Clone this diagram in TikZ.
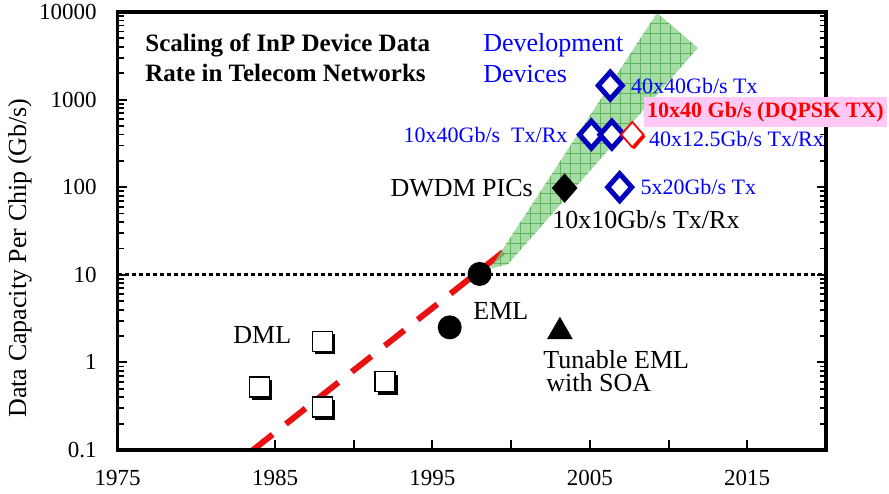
\documentclass[tikz,border=0pt]{standalone}
\usepackage{fontspec}
\setmainfont{Liberation Serif}
\usetikzlibrary{positioning,shapes.geometric,shadows,patterns.meta}

\definecolor{devblue}{RGB}{0,0,255}
\definecolor{markblue}{RGB}{0,0,190}
\definecolor{trendred}{RGB}{232,18,18}
\definecolor{bandgreen}{RGB}{130,205,130}
\definecolor{gridgreen}{RGB}{95,180,95}
\definecolor{tagpink}{RGB}{255,200,245}

\begin{document}
\begin{tikzpicture}[x=0.5pt,y=-0.5pt,
  lbl/.style={inner sep=0pt,font=\fontsize{13}{15.5}\selectfont},
  devlbl/.style={inner sep=0pt,text=devblue,font=\fontsize{11}{13}\selectfont},
  ticklbl/.style={inner sep=0pt,font=\fontsize{11.5}{13}\selectfont},
  dmlbox/.style={draw,fill=white,line width=0.7pt,minimum size=10pt,inner sep=0pt,
    drop shadow={shadow xshift=1.5pt,shadow yshift=-1.5pt,opacity=1,fill=black}},
  emldot/.style={circle,fill=black,minimum size=12pt,inner sep=0pt},
  tunmark/.style={regular polygon,regular polygon sides=3,fill=black,minimum size=15pt,inner sep=0pt},
  picmark/.style={diamond,fill=black,minimum width=13pt,minimum height=15pt,inner sep=0pt},
  devmark/.style={diamond,draw=markblue,fill=white,line width=2.5pt,minimum width=13pt,minimum height=14.5pt,inner sep=0pt},
  dqmark/.style={diamond,draw=red,fill=white,line width=0.9pt,minimum width=11.5pt,minimum height=13pt,inner sep=0pt,
    drop shadow={shadow xshift=1pt,shadow yshift=-1pt,opacity=1,fill=red}},
  dqtag/.style={fill=tagpink,text=red,inner xsep=1.5pt,inner ysep=2.5pt,font=\bfseries\fontsize{11}{12}\selectfont}]
  \useasboundingbox (0,0) rectangle (889,493);
  \node[lbl,rotate=90] (ylab) at (20,258) {Data Capacity Per Chip (Gb/s)};

  % data frame: x = years after 1975, y = log10(Gb/s)+1
  \begin{scope}[shift={(117.6,450)},x=7.87pt,y=43.8pt]
    \draw[line width=1.5pt,dash pattern=on 2pt off 1.5pt] (0,2) -- (45,2);
    \draw[trendred,line width=3pt,dash pattern=on 12.5pt off 8.5pt] (8.6,0) -- (25.06,2.34);
    \fill[bandgreen,fill opacity=0.7] (23.66,2.07) -- (24.80,2.12) -- (36.87,4.59) -- (34.27,4.99) -- cycle;
    \fill[pattern={Hatch[angle=0,distance=5pt,line width=0.4pt]},pattern color=gridgreen]
      (23.66,2.07) -- (24.80,2.12) -- (36.87,4.59) -- (34.27,4.99) -- cycle;

    % axes and ticks
    \draw[line width=1.75pt] (0,0) rectangle (45,5);
    \foreach \d in {0,...,4} {
      \foreach \k in {2,...,9} {
        \draw[line width=0.9pt] (0,{\d+log10(\k)}) -- ++(3pt,0);
        \draw[line width=0.9pt] (45,{\d+log10(\k)}) -- ++(-3pt,0);
      }
    }
    \foreach \d in {1,...,4} {
      \draw[line width=1pt] (0,\d) -- ++(4.5pt,0);
      \draw[line width=1pt] (45,\d) -- ++(-4.5pt,0);
    }
    \foreach \t in {10,15,...,40}
      \draw[line width=1pt] (\t,0) -- ++(0,5pt);
    \foreach \v [count=\d from 0] in {0.1,1,10,100,1000,10000}
      \node[ticklbl,anchor=east,xshift=-10.3pt] (yt\d) at (0,\d) {\v};
    \foreach \yr [count=\i from 0] in {1975,1985,1995,2005,2015}
      \node[ticklbl,anchor=north,yshift=-10pt] (xt\i) at (10*\i,0) {\yr};

    % measured devices
    \node[dmlbox] (dml1) at (9.0,0.72) {};
    \node[dmlbox] (dml2) at (13.0,1.24) {};
    \node[dmlbox] (dml3) at (13.0,0.49) {};
    \node[dmlbox] (dml4) at (17.0,0.78) {};
    \node[emldot] (eml1) at (21.1,1.40) {};
    \node[emldot] (eml2) at (23.0,2.01) {};
    \node[tunmark] (tun) at (28.1,1.35) {};
    \node[picmark] (pic) at (28.4,2.99) {};
    \node[devmark] (dev1) at (31.3,4.16) {};
    \node[devmark] (dev2) at (30.1,3.60) {};
    \node[devmark] (dev3) at (31.4,3.60) {};
    \node[devmark] (dev4) at (31.9,3.00) {};
    \node[dqmark] (dq) at (32.7,3.60) {};

    % labels
    \node[lbl,anchor=north west,align=left,font=\bfseries\fontsize{12.5}{15}\selectfont] (title) at (1.74,4.76)
      {Scaling of InP Device Data\\Rate in Telecom Networks};
    \node[lbl,anchor=north west,align=left,text=devblue] (ldev) at (23.21,4.76) {Development\\Devices};
    \node[devlbl,right=2.5pt of dev1] (l40x40) {40x40Gb/s Tx};
    \node[devlbl,left=4pt of dev2] (l10x40) {10x40Gb/s\ \ Tx/Rx};
    \node[devlbl,right=2pt of dq,yshift=-2pt] (l40x12) {40x12.5Gb/s Tx/Rx};
    \node[devlbl,right=2.5pt of dev4] (l5x20) {5x20Gb/s Tx};
    \node[dqtag] (ldq) at (41.16,3.86) {10x40 Gb/s (DQPSK TX)};
    \node[lbl,left=9pt of pic] (lpic) {DWDM PICs};
    \node[lbl,anchor=west] (l10x10) at (27.6,2.63) {10x10Gb/s Tx/Rx};
    \node[lbl,anchor=west] (leml) at (22.58,1.59) {EML};
    \node[lbl,anchor=west] (ldml) at (7.33,1.31) {DML};
    \node[lbl,anchor=north west,align=left,font=\fontsize{13}{11.5}\selectfont] (ltun) at (27.03,1.14)
      {Tunable EML\\\hspace*{1.5pt}with SOA};
  \end{scope}
\end{tikzpicture}
\end{document}
